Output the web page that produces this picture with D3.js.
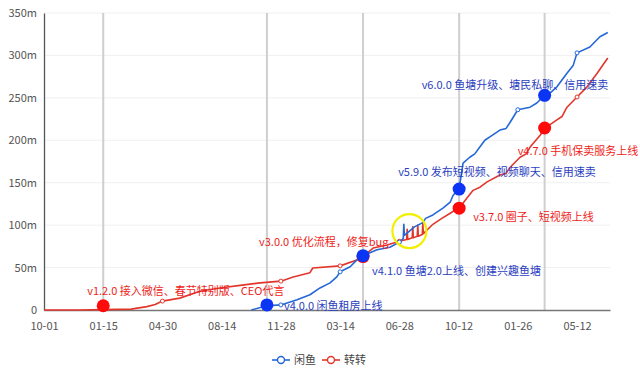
<!DOCTYPE html>
<html>
<head>
<meta charset="utf-8">
<script src="https://cdn.jsdelivr.net/npm/d3@7/dist/d3.min.js"></script>
<style>
  html, body { margin: 0; padding: 0; background: #fff; }
  svg { display: block; font-family: "Noto Sans CJK SC", "Noto Sans", sans-serif; }
</style>
</head>
<body>
<svg id="chart" width="640" height="376"></svg>
<script>
// ---------------- DATA ----------------
const xTickDates = ["2015-10-01","2016-01-15","2016-04-30","2016-08-14","2016-11-28",
                    "2017-03-14","2017-06-28","2017-10-12","2018-01-26","2018-05-12"];
const yTickValues = [0, 50, 100, 150, 200, 250, 300, 350];
const yTickLabels = ["0", "50m", "100m", "150m", "200m", "250m", "300m", "350m"];
const seriesNames = ["闲鱼", "转转"];

const xianyuDates = ["2016-10-06","2016-11-03","2016-11-28","2016-12-27","2017-01-19","2017-02-06",
  "2017-02-24","2017-03-08","2017-03-14","2017-04-01","2017-04-13","2017-04-24","2017-05-19",
  "2017-06-11","2017-06-28","2017-07-05","2017-07-06","2017-07-07","2017-07-25","2017-08-09",
  "2017-08-14","2017-08-27","2017-09-14","2017-09-27","2017-10-02","2017-10-13","2017-10-20",
  "2017-11-01","2017-11-10","2017-11-19","2017-11-28","2017-12-07","2017-12-25","2018-01-05","2018-01-12",
  "2018-01-26","2018-02-17","2018-03-01","2018-03-15","2018-03-27","2018-04-06","2018-04-24",
  "2018-05-05","2018-05-12","2018-06-04","2018-06-22","2018-07-06"];
const xianyuValues = [0, 5, 6, 12, 18, 26,
  32, 39, 45, 51, 59, 64, 71,
  74, 80, 84, 101, 88, 98, 103,
  108, 112, 120, 127, 135, 143, 173,
  180, 184, 192, 200, 204, 212, 214, 221,
  236, 239, 244, 253, 257, 263, 279,
  288, 303, 310, 322, 327];

const zhuanzhuanDates = ["2015-10-01","2015-12-01","2016-01-15","2016-03-05","2016-04-02","2016-04-17",
  "2016-04-30","2016-05-31","2016-07-06","2016-08-11","2016-09-16","2016-10-22","2016-11-28",
  "2016-12-20","2017-01-19","2017-01-24","2017-03-14","2017-04-13","2017-04-24","2017-05-12",
  "2017-06-06","2017-06-28","2017-07-11","2017-07-12","2017-07-13","2017-07-21","2017-07-22",
  "2017-07-23","2017-07-30","2017-07-31","2017-08-01","2017-08-08","2017-08-09","2017-08-10",
  "2017-08-27","2017-09-12","2017-09-27","2017-10-06","2017-10-13","2017-10-27","2017-11-07",
  "2017-11-20","2017-12-02","2017-12-25","2018-01-05","2018-01-12","2018-01-30","2018-02-10","2018-02-17",
  "2018-03-07","2018-03-15","2018-04-06","2018-04-15","2018-04-24","2018-05-12","2018-05-30",
  "2018-06-17","2018-07-06"];
const zhuanzhuanValues = [0, 0, 0.5, 1, 4, 6.5,
  10.5, 14, 22, 26, 29, 32, 34,
  39, 44, 49.5, 52, 59, 63, 73,
  76.5, 81, 83, 95, 83, 85, 98,
  85, 87, 100, 87, 89, 102, 90,
  101, 108, 114, 118, 120, 132, 141,
  145, 151, 159, 161, 168, 180, 184, 192,
  206, 214, 224, 228, 239, 251, 263,
  279, 297];

// tick dates where the series show their small symbols
const symbolDates = ["2016-04-30","2016-11-28","2017-03-14","2017-06-28","2018-01-26","2018-05-12"];

// version events
const eventDates  = ["2016-01-15","2016-11-03","2017-04-24","2017-04-24","2017-10-13","2017-10-13","2018-03-15","2018-03-15"];
const eventSeries = [1, 0, 1, 0, 1, 0, 1, 0];
const eventValues = [5, 6, 63, 64, 120, 142.5, 214.5, 253];
const eventLabels = ["v1.2.0 接入微信、春节特别版、CEO代言",
                     "v4.0.0 闲鱼租房上线",
                     "v3.0.0 优化流程，修复bug",
                     "v4.1.0 鱼塘2.0上线、创建兴趣鱼塘",
                     "v3.7.0 圈子、短视频上线",
                     "v5.9.0 发布短视频、视频聊天、信用速卖",
                     "v4.7.0 手机保卖服务上线",
                     "v6.0.0 鱼塘升级、塘民私聊、信用速卖"];
const highlightDate = "2017-07-16";
const highlightValue = 93;

// ---------------- STYLE ----------------
const lineColors  = ["#2468d8", "#e2362c"];
const dotColors   = ["#0a35f5", "#ff0a0a"];
const labelColors = ["#2a40c0", "#ee1c20"];
const labelOffsets = [[-16,-15],[17,1],[-104,-14],[9,15],[14,9],[-61,-17],[-27,23],[-123,-10]];

const parse = d3.utcParse("%Y-%m-%d");
const svg = d3.select("#chart");
const margin = {left: 44, right: 30, top: 13, bottom: 66};
const W = 640, H = 376;

const x = d3.scaleUtc()
  .domain([parse("2015-10-01"), parse("2018-07-10")])
  .range([margin.left, W - margin.right]);
const y = d3.scaleLinear().domain([0, 350]).range([H - margin.bottom, margin.top]);

// horizontal grid
svg.append("g").selectAll("line").data(yTickValues.slice(1)).join("line")
  .attr("x1", x.range()[0]).attr("x2", x.range()[1])
  .attr("y1", d => y(d)).attr("y2", d => y(d))
  .attr("stroke", "#f0f0f0").attr("stroke-width", 1);

// event vertical lines
const uniqueEventDates = Array.from(new Set(eventDates));
svg.append("g").selectAll("line").data(uniqueEventDates).join("line")
  .attr("x1", d => x(parse(d))).attr("x2", d => x(parse(d)))
  .attr("y1", y(350)).attr("y2", y(0))
  .attr("stroke", "#cfcfcf").attr("stroke-width", 2);

// axes
const xAxis = d3.axisBottom(x)
  .tickValues(xTickDates.map(parse))
  .tickFormat(d3.utcFormat("%m-%d"))
  .tickSize(0).tickPadding(12);
const gx = svg.append("g").attr("transform", `translate(0,${y(0)})`).call(xAxis);
gx.select(".domain").attr("stroke", "#777").attr("stroke-width", 1.5);
gx.selectAll("text").attr("fill", "#555").attr("font-size", 11)
  .attr("font-family", "'Noto Sans CJK SC', sans-serif");

const yAxis = d3.axisLeft(y)
  .tickValues(yTickValues)
  .tickFormat((d, i) => yTickLabels[i])
  .tickSize(0).tickPadding(7);
const gy = svg.append("g").attr("transform", `translate(${x.range()[0]},0)`).call(yAxis);
gy.select(".domain").attr("stroke", "#555").attr("stroke-width", 1.3);
gy.selectAll("text").attr("fill", "#555").attr("font-size", 11)
  .attr("font-family", "'Noto Sans CJK SC', sans-serif");

// series
const series = [
  {dates: xianyuDates, values: xianyuValues},
  {dates: zhuanzhuanDates, values: zhuanzhuanValues}
].map((s, i) => ({
  i,
  pts: s.dates.map((d, k) => ({date: parse(d), key: d, v: s.values[k]}))
}));

const line = d3.line().x(d => x(d.date)).y(d => y(d.v));
[1, 0].forEach(i => {
  svg.append("path").datum(series[i].pts)
    .attr("d", line).attr("fill", "none")
    .attr("stroke", lineColors[i]).attr("stroke-width", 1.6)
    .attr("stroke-linejoin", "round");
});

// small symbols
[1, 0].forEach(i => {
  svg.append("g").selectAll("circle")
    .data(series[i].pts.filter(p => symbolDates.includes(p.key))).join("circle")
    .attr("cx", d => x(d.date)).attr("cy", d => y(d.v)).attr("r", 2)
    .attr("fill", "#fff").attr("stroke", lineColors[i]).attr("stroke-width", 1);
});

// highlight circle
svg.append("circle")
  .attr("cx", x(parse(highlightDate))).attr("cy", y(highlightValue)).attr("r", 17)
  .attr("fill", "none").attr("stroke", "#f2f000").attr("stroke-width", 2.2);

// event dots
const events = eventDates.map((d, k) => ({date: parse(d), s: eventSeries[k], v: eventValues[k], label: eventLabels[k], off: labelOffsets[k]}));
svg.append("g").selectAll("circle").data(events).join("circle")
  .attr("cx", d => x(d.date)).attr("cy", d => y(d.v)).attr("r", 6.5)
  .attr("fill", d => dotColors[d.s]);

// event labels
svg.append("g").selectAll("text").data(events).join("text")
  .attr("x", d => x(d.date) + d.off[0])
  .attr("y", d => y(d.v) + d.off[1])
  .attr("dy", "0.35em")
  .attr("font-size", 11)
  .attr("fill", d => labelColors[d.s])
  .text(d => d.label);

// legend
const legend = svg.append("g").attr("transform", "translate(272,360)");
seriesNames.forEach((name, i) => {
  const g = legend.append("g").attr("transform", `translate(${i * 50},0)`);
  g.append("line").attr("x1", 0).attr("x2", 18).attr("y1", 0).attr("y2", 0)
    .attr("stroke", lineColors[i]).attr("stroke-width", 1.6);
  g.append("circle").attr("cx", 9).attr("cy", 0).attr("r", 3.5)
    .attr("fill", "#fff").attr("stroke", lineColors[i]).attr("stroke-width", 1.4);
  g.append("text").attr("x", 22).attr("y", 0).attr("dy", "0.35em")
    .attr("font-size", 11).attr("fill", "#444").text(name);
});
</script>
</body>
</html>
